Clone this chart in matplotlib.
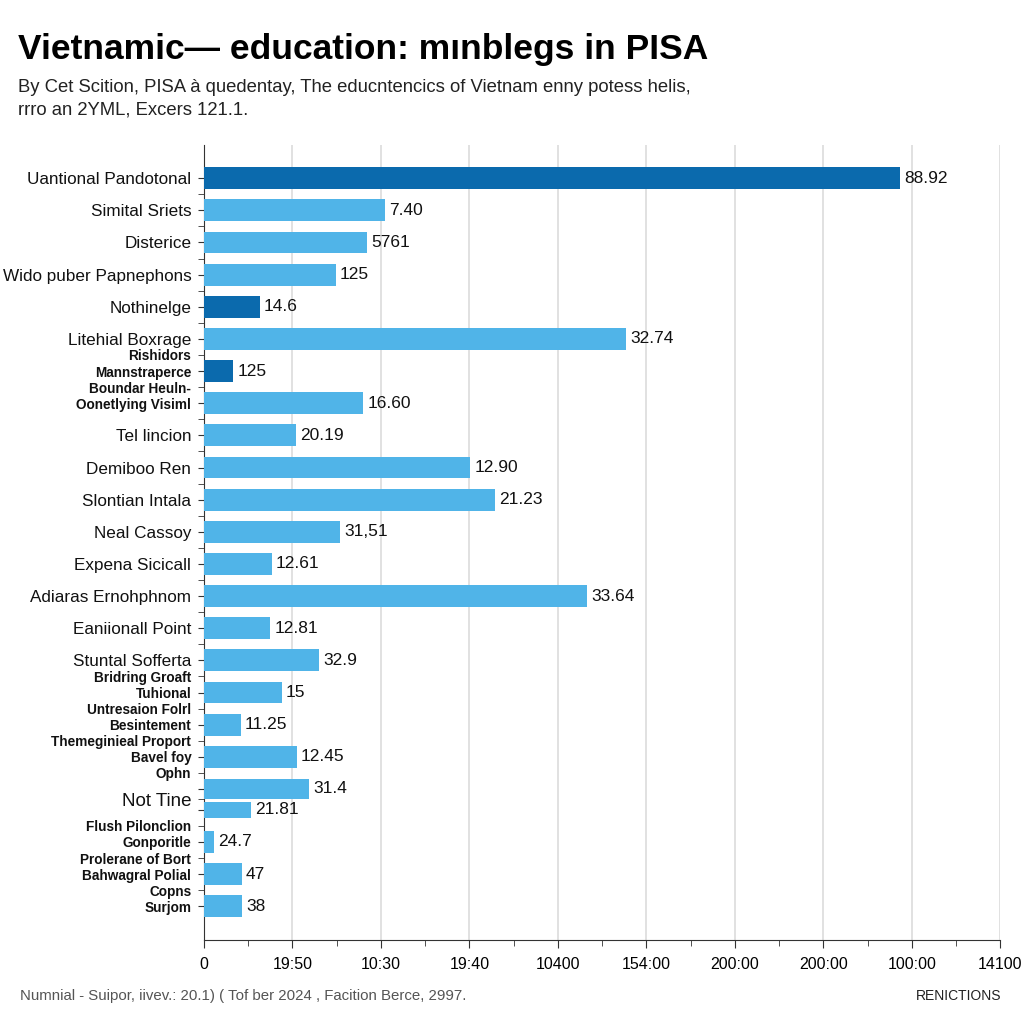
import numpy as np
import matplotlib
matplotlib.use("Agg")
import matplotlib.pyplot as plt
from matplotlib.ticker import MultipleLocator

plt.rcParams['font.family'] = ['Liberation Sans', 'DejaVu Sans']

# category labels (main line, sits on the bar)
labels = [
    "Uantional Pandotonal", "Simital Sriets", "Disterice", "Wido puber Papnephons",
    "Nothinelge", "Litehial Boxrage", "Mannstraperce", "Oonetlying Visiml",
    "Tel lincion", "Demiboo Ren", "Slontian Intala", "Neal Cassoy",
    "Expena Sicicall", "Adiaras Ernohphnom", "Eaniionall Point", "Stuntal Sofferta",
    "Tuhional", "Besintement", "Bavel foy", "", "", "Gonporitle",
    "Bahwagral Polial", "Surjom",
]
# upper lines, placed between bar i and bar i+1
upper_labels = [
    "", "", "", "", "", "Rishidors", "Boundar Heuln-", "", "", "", "", "", "", "", "",
    "Bridring Groaft", "Untresaion Folrl", "Themeginieal Proport", "Ophn", "Not Tine",
    "Flush Pilonclion", "Prolerane of Bort", "Copns",
]
values = [78.7, 20.5, 18.4, 14.9, 6.3, 47.7, 3.3, 18.0, 10.4, 30.1, 32.9, 15.4,
          7.7, 43.3, 7.5, 13.0, 8.8, 4.2, 10.5, 11.9, 5.3, 1.1, 4.3, 4.3]
value_text = ["88.92", "7.40", "5761", "125", "14.6", "32.74", "125", "16.60",
              "20.19", "12.90", "21.23", "31,51", "12.61", "33.64", "12.81", "32.9",
              "15", "11.25", "12.45", "31.4", "21.81", "24.7", "47", "38"]
highlight = [0, 4, 6]
xtick_labels = ["0", "19:50", "10:30", "19:40", "10400", "154:00", "200:00",
                "200:00", "100:00", "14100"]

small = {6, 7, 16, 17, 18, 21, 22, 23}

fig = plt.figure(figsize=(10.24, 10.24), dpi=100)
ax = fig.add_axes([0.199, 0.082, 0.778, 0.776])

n = len(values)
y = np.arange(n, dtype=float)
y[20:] -= 0.35
heights = np.full(n, 0.68)
heights[19] = 0.6
heights[20] = 0.5
colors = ['#0b6aad' if i in highlight else '#50b4e8' for i in range(n)]
bars = ax.barh(y, values, height=heights, color=colors, zorder=3)
for b, t in zip(bars, value_text):
    ax.annotate(t, (b.get_width(), b.get_y() + b.get_height() / 2),
                xytext=(3, 0), textcoords='offset points',
                va='center', ha='left', fontsize=12.5, color='#111111')

ax.set_xlim(0, 90)
ax.set_ylim(23.7, -1.02)

ax.set_xticks(np.arange(0, 91, 10), xtick_labels)
ax.xaxis.set_minor_locator(MultipleLocator(5))
ax.set_yticks(y, labels)
mid = (y[:-1] + y[1:]) / 2
ax.set_yticks(mid, upper_labels, minor=True)

for i, lab in enumerate(ax.get_yticklabels()):
    if i in small:
        lab.set_fontsize(9.8)
        lab.set_fontweight('bold')
    else:
        lab.set_fontsize(12.3)
for lab in ax.get_yticklabels(minor=True):
    if lab.get_text() == "Not Tine":
        lab.set_fontsize(13.5)
    else:
        lab.set_fontsize(9.8)
        lab.set_fontweight('bold')

ax.tick_params(axis='y', which='both', length=4, pad=5, color='#333333', labelcolor='#111111')
ax.tick_params(axis='x', which='major', length=6, pad=6, labelsize=11.5, color='#333333')
ax.tick_params(axis='x', which='minor', length=4, color='#333333')

ax.grid(axis='x', which='major', color='#dcdcdc', lw=1.2, zorder=0)
ax.set_axisbelow(True)
for s in ['top', 'right']:
    ax.spines[s].set_visible(False)
for s in ['left', 'bottom']:
    ax.spines[s].set_color('#333333')

fig.text(0.018, 1 - 50 / 1024, "Vietnamic\u2014 education: m\u0131nblegs in PISA",
         fontsize=25.5, fontweight='bold', va='center', ha='left')
fig.text(0.018, 1 - 87 / 1024,
         "By Cet Scition, PISA \u00e0 quedentay, The educntencics of Vietnam enny potess helis,",
         fontsize=13.3, va='center', ha='left', color='#222222')
fig.text(0.018, 1 - 110 / 1024, "rrro an 2YML, Excers 121.1.",
         fontsize=13.3, va='center', ha='left', color='#222222')
fig.text(0.02, 1 - 996 / 1024,
         "Numnial - Suipor, iivev.: 20.1) ( Tof ber 2024 , Facition Berce, 2997.",
         fontsize=10.8, va='center', ha='left', color='#555555')
fig.text(0.978, 1 - 996 / 1024, "RENICTIONS",
         fontsize=10, va='center', ha='right', color='#222222')

fig.savefig("out.png", dpi=100)
